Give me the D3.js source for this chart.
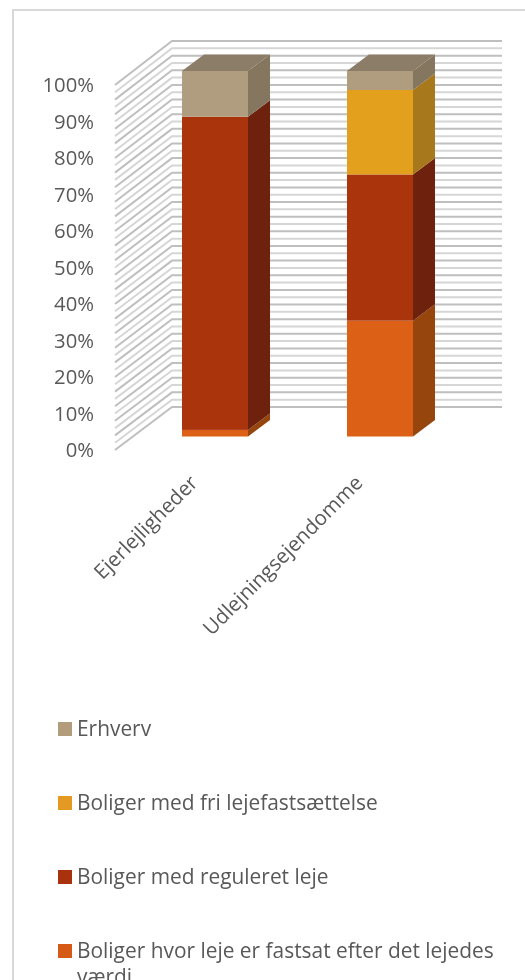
<!DOCTYPE html>
<html><head><meta charset="utf-8">
<script src="https://cdn.jsdelivr.net/npm/d3@7"></script>
<style>html,body{margin:0;padding:0;background:#fff;overflow:hidden}svg{display:block}text{font-family:"Open Sans",sans-serif;fill:#595959}</style>
</head><body><div id="c"></div>
<script>
const categories=["Ejerlejligheder","Udlejningsejendomme"];
const seriesNames=["Boliger hvor leje er fastsat efter det lejedes værdi","Boliger med reguleret leje","Boliger med fri lejefastsættelse","Erhverv"];
const valuesEjer=[1.8,85.7,0,12.5];
const valuesUdl=[31.7,40,23.1,5.2];
const colors=["#d55a14","#a8300e","#e49a24","#b29c7c"];
const faceColors=["#dc6012","#aa3410","#e2a01e","#b09c7e"];
const sideColors=["#96440f","#6e240c","#a8781e","#857660"];
const topColors=["#a85a20","#80301a","#b08030","#8b7d67"];
const tickValues=d3.range(0,101,10);
const gridValues=d3.range(0,101,2);
const legendOrder=[3,2,1,0];

const W=525,H=980;
const svg=d3.select("#c").append("svg").attr("width",W).attr("height",H);
svg.append("filter").attr("id","soft").append("feGaussianBlur").attr("stdDeviation",0.4);
const root=svg.append("g").attr("filter","url(#soft)");
root.append("rect").attr("x",13).attr("y",10).attr("width",W+20).attr("height",H+20).attr("fill","#fff").attr("stroke","#d9d9d9").attr("stroke-width",2);

const yFront=d3.scaleLinear().domain([0,100]).range([450,85]);
const yBack=d3.scaleLinear().domain([0,100]).range([407,41]);
const yBar=d3.scaleLinear().domain([0,100]).range([436.5,71]);
const barW=66,dx=22,dy=-16.5;
const xBar=d3.scalePoint().domain(categories).range([182,347]);

const grid=root.append("g");
gridValues.forEach((v,i)=>{
  const col=i%2?"#d6d6d6":"#bfbfbf";
  grid.append("path").attr("d",`M115,${yFront(v)}L172,${yBack(v)}L502,${yBack(v)}`).attr("fill","none").attr("stroke",col).attr("stroke-width",2);
});

const stack=[valuesEjer,valuesUdl];
categories.forEach((c,ci)=>{
  let acc=0;const g=root.append("g");const x0=xBar(c);
  stack[ci].forEach((v,si)=>{
    if(v<=0)return;
    const y0=yBar(acc),y1=yBar(acc+v);acc+=v;
    g.append("path").attr("d",`M${x0+barW},${y0}L${x0+barW+dx},${y0+dy}L${x0+barW+dx},${y1+dy}L${x0+barW},${y1}Z`).attr("fill",sideColors[si]);
    g.append("rect").attr("x",x0).attr("y",y1).attr("width",barW).attr("height",y0-y1).attr("fill",faceColors[si]);
  });
  const last=stack[ci].length-1,yt=yBar(acc);
  g.append("path").attr("d",`M${x0},${yt}L${x0+dx},${yt+dy}L${x0+barW+dx},${yt+dy}L${x0+barW},${yt}Z`).attr("fill",topColors[last]);
});

tickValues.forEach(v=>{
  root.append("text").attr("x",94).attr("y",yFront(v)+7).attr("text-anchor","end").attr("font-size",20.3).text(v+"%");
});
const catPos=[199,364];
categories.forEach((c,i)=>{
  root.append("text").attr("transform",`translate(${catPos[i]},484) rotate(-45)`).attr("text-anchor","end").attr("font-size",20.5).text(c);
});

const legY=d3.scalePoint().domain(legendOrder).range([729,951]);
legendOrder.forEach(si=>{
  const y=legY(si);
  root.append("rect").attr("x",58).attr("y",y-7).attr("width",14).attr("height",14).attr("fill",colors[si]);
  const t=root.append("text").attr("x",77).attr("y",y+7).attr("font-size",20.9);
  if(si===0){
    t.text("Boliger hvor leje er fastsat efter det lejedes");
    root.append("text").attr("x",77).attr("y",y+33).attr("font-size",20.9).text("værdi");
  } else t.text(seriesNames[si]);
});
</script></body></html>
